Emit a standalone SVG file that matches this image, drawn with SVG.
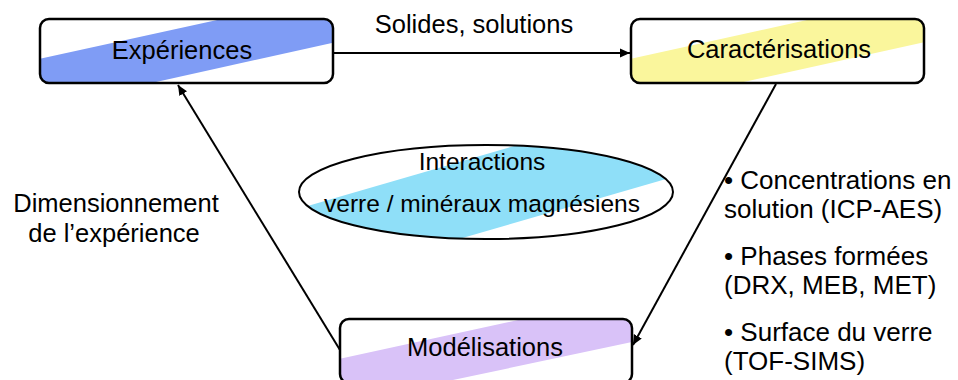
<svg xmlns="http://www.w3.org/2000/svg" width="958" height="380" viewBox="0 0 958 380">
<style>
text{font-family:"Liberation Sans",Arial,sans-serif;font-size:25.5px;fill:#000}
.ell{font-size:24.5px}
.list{font-size:26px}
.box{fill:none;stroke:#000;stroke-width:2.5}
.conn{stroke:#000;stroke-width:2;fill:none;marker-end:url(#ah)}
.mid{text-anchor:middle}
</style>
<defs>
<marker id="ah" viewBox="0 0 10 10" refX="10" refY="5" markerWidth="10" markerHeight="10" markerUnits="userSpaceOnUse" orient="auto">
<path d="M0,0.5 L10,5 L0,9.5 Z" fill="#000"/>
</marker>
<clipPath id="c1"><rect x="40" y="19" width="293" height="64" rx="9"/></clipPath>
<clipPath id="c2"><rect x="631" y="19" width="293" height="64" rx="9"/></clipPath>
<clipPath id="c3"><rect x="340" y="319" width="292" height="64" rx="9"/></clipPath>
<clipPath id="c4"><ellipse cx="486" cy="192" rx="187" ry="47"/></clipPath>
</defs>
<rect width="958" height="380" fill="#fff"/>
<g id="connectors">
<line class="conn" x1="334" y1="53" x2="630" y2="53"/>
<line class="conn" x1="776" y1="84" x2="633" y2="345"/>
<line class="conn" x1="340" y1="350" x2="178" y2="85"/>
</g>
<g id="experiences">
<g clip-path="url(#c1)"><polygon points="30,61 345,-8 345,40 30,110" fill="#7f9cf5"/></g>
<rect class="box" x="40" y="19" width="293" height="64" rx="9"/>
<text class="mid" x="182" y="59">Expériences</text>
</g>
<g id="caracterisations">
<g clip-path="url(#c2)"><polygon points="621,61 934,-8 934,40 621,109" fill="#faf69c"/></g>
<rect class="box" x="631" y="19" width="293" height="64" rx="9"/>
<text class="mid" x="779" y="58">Caractérisations</text>
</g>
<g id="modelisations">
<g clip-path="url(#c3)"><polygon points="330,361 642,293 642,340 330,406" fill="#d9c2f8"/></g>
<rect class="box" x="340" y="319" width="292" height="64" rx="9"/>
<text class="mid" x="485" y="356">Modélisations</text>
</g>
<g id="interactions">
<g clip-path="url(#c4)"><polygon points="290,211 690,95 690,172 290,288" fill="#8fdff8"/></g>
<ellipse cx="486" cy="192" rx="187" ry="47" fill="none" stroke="#000" stroke-width="2"/>
<text class="mid ell" x="482" y="170">Interactions</text>
<text class="mid ell" x="482" y="212">verre / minéraux magnésiens</text>
</g>
<g id="labels">
<text class="mid" x="474" y="33">Solides, solutions</text>
<text class="mid" x="116" y="212">Dimensionnement</text>
<text class="mid" x="114" y="242">de l’expérience</text>
<text class="list" x="724" y="189">• Concentrations en</text>
<text class="list" x="724" y="218">solution (ICP-AES)</text>
<text class="list" x="724" y="265">• Phases formées</text>
<text class="list" x="724" y="294">(DRX, MEB, MET)</text>
<text class="list" x="724" y="341">• Surface du verre</text>
<text class="list" x="724" y="370">(TOF-SIMS)</text>
</g>
</svg>
